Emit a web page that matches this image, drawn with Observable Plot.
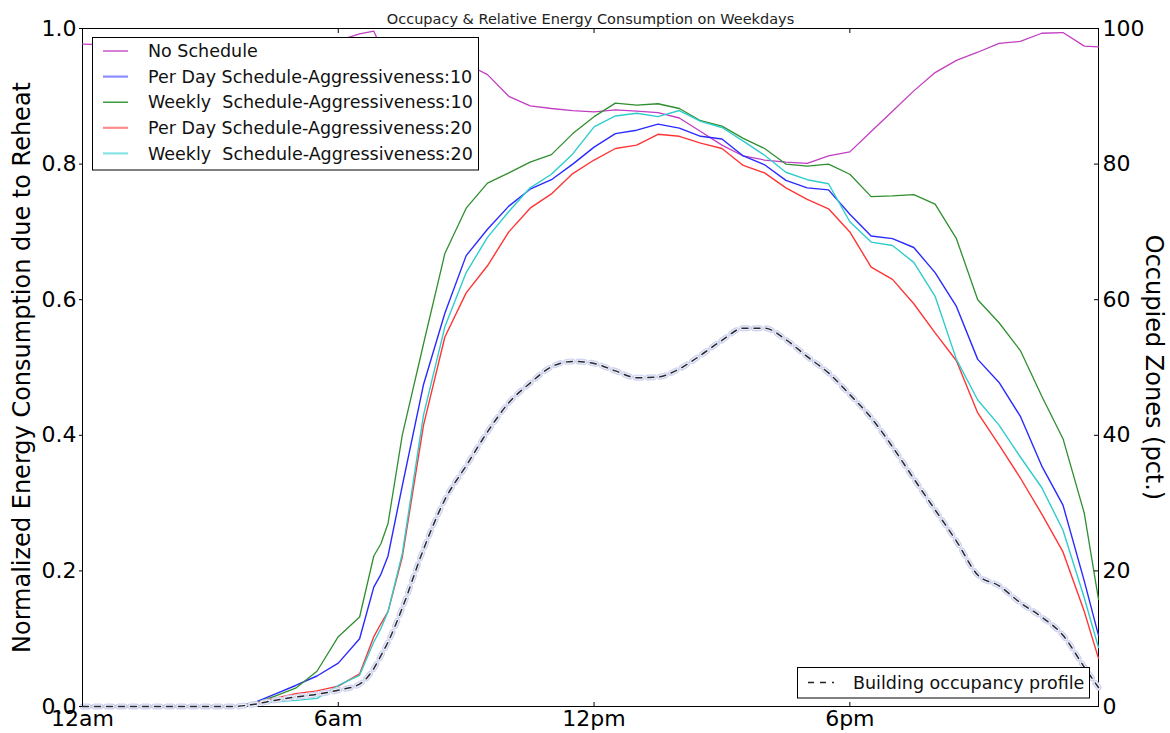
<!DOCTYPE html>
<html>
<head>
<meta charset="utf-8">
<script src="https://cdn.jsdelivr.net/npm/d3@7"></script>
<script src="https://cdn.jsdelivr.net/npm/@observablehq/plot@0.6"></script>
<style>
  html, body { margin: 0; padding: 0; background: #fff; }
  #chart svg { display: block; }
</style>
</head>
<body>
<div id="chart"></div>
<script>
// ---------- data ----------
const title = "Occupacy & Relative Energy Consumption on Weekdays";
const yLeftLabel = "Normalized Energy Consumption due to Reheat";
const yRightLabel = "Occupied Zones (pct.)";

const hours = [0, 0.5, 1, 1.5, 2, 2.5, 3, 3.5, 4, 4.5, 5, 5.5, 6, 6.5, 6.833, 7, 7.167, 7.5,
  8, 8.5, 9, 9.5, 10, 10.5, 11, 11.5, 12, 12.5, 13, 13.5, 14, 14.5, 15, 15.5, 16, 16.5,
  17, 17.5, 18, 18.5, 19, 19.5, 20, 20.5, 21, 21.5, 22, 22.5, 23, 23.5, 23.833];

const noSchedule = [0.977, 0.976, 0.977, 0.982, 0.981, 0.980, 0.980, 0.979, 0.980, 0.981, 0.982, 0.982, 0.982, 0.992, 0.996, 0.973, 0.950, 0.958,
  0.950, 0.955, 0.948, 0.932, 0.900, 0.886, 0.882, 0.879, 0.877, 0.880, 0.878, 0.876, 0.868, 0.848, 0.828, 0.812, 0.806, 0.803,
  0.801, 0.812, 0.818, 0.848, 0.878, 0.908, 0.935, 0.953, 0.965, 0.978, 0.981, 0.993, 0.994, 0.974, 0.973];

const perDay10 = [0, 0, 0, 0, 0, 0, 0, 0, 0.005, 0.018, 0.031, 0.045, 0.064, 0.100, 0.176, 0.195, 0.222, 0.325,
  0.475, 0.580, 0.665, 0.704, 0.738, 0.763, 0.777, 0.800, 0.825, 0.845, 0.850, 0.859, 0.853, 0.841, 0.837, 0.812, 0.799, 0.776,
  0.765, 0.762, 0.726, 0.694, 0.690, 0.677, 0.640, 0.590, 0.512, 0.478, 0.428, 0.355, 0.297, 0.185, 0.105];

const weekly10 = [0, 0, 0, 0, 0, 0, 0, 0, 0.004, 0.015, 0.027, 0.052, 0.103, 0.132, 0.222, 0.240, 0.270, 0.400,
  0.535, 0.668, 0.735, 0.772, 0.787, 0.803, 0.814, 0.845, 0.870, 0.890, 0.887, 0.889, 0.882, 0.864, 0.856, 0.838, 0.823, 0.800,
  0.797, 0.800, 0.785, 0.752, 0.753, 0.755, 0.741, 0.690, 0.600, 0.566, 0.525, 0.458, 0.395, 0.285, 0.158];

const perDay20 = [0, 0, 0, 0, 0, 0, 0, 0, 0.004, 0.012, 0.019, 0.023, 0.030, 0.048, 0.103, 0.122, 0.140, 0.220,
  0.415, 0.545, 0.610, 0.650, 0.700, 0.735, 0.756, 0.786, 0.806, 0.823, 0.828, 0.844, 0.841, 0.831, 0.823, 0.798, 0.787, 0.765,
  0.748, 0.734, 0.700, 0.648, 0.630, 0.594, 0.551, 0.510, 0.433, 0.386, 0.337, 0.284, 0.228, 0.140, 0.071];

const weekly20 = [0, 0, 0, 0, 0, 0, 0, 0, 0.003, 0.007, 0.009, 0.012, 0.031, 0.046, 0.095, 0.115, 0.140, 0.225,
  0.430, 0.560, 0.640, 0.692, 0.730, 0.765, 0.785, 0.815, 0.855, 0.871, 0.875, 0.870, 0.879, 0.863, 0.854, 0.834, 0.813, 0.788,
  0.777, 0.771, 0.715, 0.685, 0.680, 0.655, 0.605, 0.512, 0.452, 0.415, 0.368, 0.323, 0.260, 0.160, 0.087];

// building occupancy profile, percent of zones (right axis)
const occupancy = [0, 0, 0, 0, 0, 0, 0, 0, 0.3, 0.9, 1.4, 1.8, 2.4, 3.3, 5.6, 7.5, 9.5, 14.5,
  23.2, 30.5, 35.5, 40.5, 44.8, 47.7, 50.1, 50.9, 50.6, 49.5, 48.5, 48.6, 49.8, 51.8, 54.0, 55.8, 55.8, 54.1,
  51.6, 49.2, 46.0, 42.6, 38.3, 33.6, 29.0, 24.4, 19.4, 17.8, 15.3, 13.2, 10.5, 5.8, 2.8];

const seriesNames = ["No Schedule", "Per Day Schedule-Aggressiveness:10", "Weekly  Schedule-Aggressiveness:10",
  "Per Day Schedule-Aggressiveness:20", "Weekly  Schedule-Aggressiveness:20"];
const seriesValues = [noSchedule, perDay10, weekly10, perDay20, weekly20];
const occupancyName = "Building occupancy profile";

const xTickValues = [0, 6, 12, 18];
const xTickLabels = ["12am", "6am", "12pm", "6pm"];
const yLeftTicks = [0, 0.2, 0.4, 0.6, 0.8, 1.0];
const yRightTicks = [0, 20, 40, 60, 80, 100];

// ---------- styles ----------
const lineStyles = [
  {stroke: "#c23ec2", strokeWidth: 1.3, legendStroke: "#c23ec2", legendWidth: 1.3},
  {stroke: "#2a2aff", strokeWidth: 1.4, legendStroke: "#8c8cff", legendWidth: 2.2},
  {stroke: "#2f8f2f", strokeWidth: 1.3, legendStroke: "#1f8a1f", legendWidth: 1.3},
  {stroke: "#ff3535", strokeWidth: 1.4, legendStroke: "#ff8c8c", legendWidth: 2.2},
  {stroke: "#30cccc", strokeWidth: 1.4, legendStroke: "#88e4e4", legendWidth: 2.2}
];

// ---------- tables ----------
const lineRows = seriesNames.flatMap((name, s) =>
  hours.map((h, i) => ({series: name, s, h, v: seriesValues[s][i]})));
const occRows = hours.map((h, i) => ({h, pct: occupancy[i]}));

const font = "DejaVu Sans, Liberation Sans, sans-serif";
const W = 1170, H = 733;

const marks = [
  Plot.frame({stroke: "#000", strokeWidth: 1}),
  ...seriesNames.map((name, s) => Plot.line(lineRows.filter(d => d.s === s), {
    x: "h", y: "v", stroke: lineStyles[s].stroke, strokeWidth: lineStyles[s].strokeWidth
  })),
  // occupancy halo + dashed line (right axis: percent mapped onto the 0..1 frame)
  Plot.line(occRows, {x: "h", y: d => d.pct / 100, stroke: "#cdd2ee", strokeWidth: 6,
    strokeDasharray: "6,6", curve: "monotone-x"}),
  Plot.line(occRows, {x: "h", y: d => d.pct / 100, stroke: "#f1f2fa", strokeWidth: 3.6,
    strokeDasharray: "6,6", curve: "monotone-x"}),
  Plot.line(occRows, {x: "h", y: d => d.pct / 100, stroke: "#2a2a33", strokeWidth: 1.5,
    strokeDasharray: "6,6", curve: "monotone-x"}),
  // axes
  Plot.axisX({anchor: "bottom", ticks: xTickValues, tickFormat: (d) => xTickLabels[xTickValues.indexOf(d)],
    tickSize: -4, tickPadding: 8, fontSize: 22, label: null, fill: "#000"}),
  Plot.axisX({anchor: "top", ticks: xTickValues, tickFormat: () => "", tickSize: -4, label: null}),
  Plot.axisY({anchor: "left", ticks: yLeftTicks, tickFormat: d3.format(".1f"),
    tickSize: 3, tickPadding: 3, fontSize: 22, label: null, fill: "#000"}),
  Plot.axisY({anchor: "right", ticks: yRightTicks.map(t => t / 100),
    tickFormat: d => String(Math.round(d * 100)),
    tickSize: -5, tickPadding: 9, fontSize: 22, label: null, fill: "#000"}),
  // title and axis labels
  Plot.text([title], {frameAnchor: "top", dy: -15, fontSize: 14.5, fill: "#222", textAnchor: "middle"}),
  Plot.text([yLeftLabel], {frameAnchor: "left", dx: -60, rotate: -90, fontSize: 24, fill: "#000", textAnchor: "middle"}),
  Plot.text([yRightLabel], {frameAnchor: "right", dx: 55, rotate: 90, fontSize: 24, fill: "#000", textAnchor: "middle"})
];

const chart = Plot.plot({
  width: W, height: H,
  marginLeft: 82, marginRight: 72, marginTop: 28, marginBottom: 27,
  style: {fontFamily: font, background: "#fff", color: "#000"},
  x: {domain: [0, hours[hours.length - 1]], axis: null},
  y: {domain: [0, 1], axis: null},
  marks
});

// ---------- legends (matplotlib-style boxes) ----------
const svg = d3.select(chart);
const lg = svg.append("g").attr("font-family", font).attr("font-size", 17.5).attr("text-anchor", "start");
lg.append("rect").attr("x", 92.5).attr("y", 37.5).attr("width", 386).attr("height", 132.5)
  .attr("fill", "#fff").attr("stroke", "#000").attr("stroke-width", 1);
seriesNames.forEach((name, s) => {
  const yy = 51 + s * 25.6;
  lg.append("line").attr("x1", 103).attr("x2", 128).attr("y1", yy).attr("y2", yy)
    .attr("stroke", lineStyles[s].legendStroke).attr("stroke-width", lineStyles[s].legendWidth);
  lg.append("text").attr("x", 148).attr("y", yy).attr("dy", "0.35em").attr("text-anchor", "start")
    .style("white-space", "pre").attr("xml:space", "preserve").attr("fill", "#111").text(name);
});

const lg2 = svg.append("g").attr("font-family", font).attr("font-size", 17.5).attr("text-anchor", "start");
lg2.append("rect").attr("x", 797.5).attr("y", 667.5).attr("width", 292).attr("height", 30.5)
  .attr("fill", "#fff").attr("stroke", "#000").attr("stroke-width", 1);
lg2.append("line").attr("x1", 808).attr("x2", 834).attr("y1", 682.5).attr("y2", 682.5)
  .attr("stroke", "#222").attr("stroke-width", 1.3).attr("stroke-dasharray", "6,6");
lg2.append("text").attr("x", 853).attr("y", 682.5).attr("dy", "0.35em").attr("text-anchor", "start")
  .attr("fill", "#111").text(occupancyName);

document.getElementById("chart").appendChild(chart);
</script>
</body>
</html>
